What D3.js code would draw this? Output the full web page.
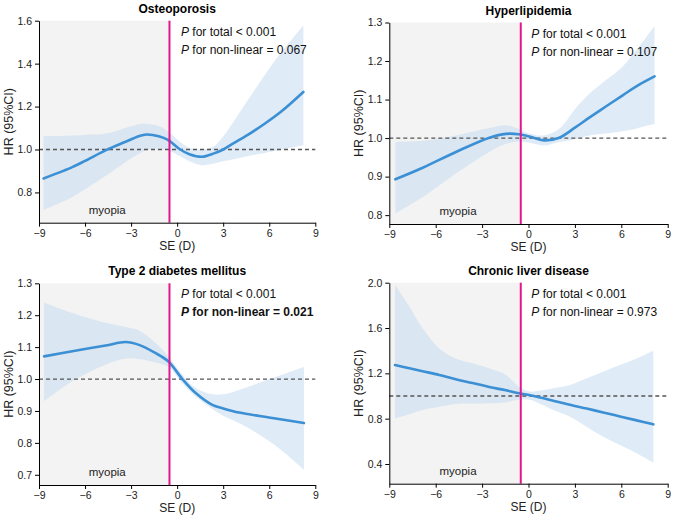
<!DOCTYPE html>
<html><head><meta charset="utf-8">
<script src="https://cdn.jsdelivr.net/npm/d3@7"></script>
<style>body{margin:0;background:#fff}svg{display:block}text{font-family:"Liberation Sans",Arial,sans-serif}</style>
</head><body><svg id="c" width="675" height="519"></svg>
<script>
// ---- data ----
const titles = ["Osteoporosis", "Hyperlipidemia", "Type 2 diabetes mellitus", "Chronic liver disease"];
const pTotal = ["< 0.001", "< 0.001", "< 0.001", "< 0.001"];
const pNonlinear = ["= 0.067", "= 0.107", "= 0.021", "= 0.973"];
const pBold = [false, false, true, false];
const cutoff = -0.5;
const xTicks = [-9, -6, -3, 0, 3, 6, 9];
const yTicks1 = [0.8, 1.0, 1.2, 1.4, 1.6];
const yTicks2 = [0.8, 0.9, 1.0, 1.1, 1.2, 1.3];
const yTicks3 = [0.7, 0.8, 0.9, 1.0, 1.1, 1.2, 1.3];
const yTicks4 = [0.4, 0.8, 1.2, 1.6, 2.0];

const osteoX  = [-8.7,-7.5,-6.8,-6,-4.6,-3.4,-2.5,-2,-1.2,-0.6,0.2,0.8,1.6,2.4,3.0,3.6,4.6,5.7,6.8,8.22];
const osteoHR = [0.865,0.898,0.919,0.947,0.998,1.035,1.062,1.07,1.062,1.045,1.0,0.978,0.966,0.982,1.0,1.026,1.068,1.12,1.178,1.268];
const osteoLo = [0.718,0.755,0.78,0.815,0.88,0.94,0.98,0.997,1.003,0.997,0.968,0.945,0.927,0.935,0.945,0.953,0.97,0.984,1.0,1.02];
const osteoHi = [1.063,1.063,1.065,1.068,1.074,1.1,1.118,1.12,1.11,1.085,1.035,1.008,1.0,1.015,1.06,1.121,1.229,1.346,1.454,1.578];

const lipidX  = [-8.61,-6.84,-4.69,-2.53,-1.46,-0.64,0.05,1.02,1.99,3.0,3.93,5,6.09,7,8.15];
const lipidHR = [0.893,0.923,0.964,1.001,1.011,1.010,1.004,0.994,1.001,1.027,1.053,1.082,1.111,1.135,1.160];
const lipidLo = [0.804,0.847,0.908,0.964,0.985,0.991,0.988,0.981,0.99,0.997,1.007,1.012,1.018,1.025,1.037];
const lipidHi = [0.99,0.993,1.007,1.026,1.033,1.024,1.012,1.007,1.024,1.075,1.115,1.15,1.186,1.23,1.291];

const t2dmX  = [-8.67,-6.83,-4.66,-3.35,-2.49,-1.4,-0.57,0.34,1.21,2.29,3.0,4.03,6.2,8.26];
const t2dmHR = [1.071,1.087,1.105,1.116,1.107,1.081,1.055,1.0,0.956,0.919,0.908,0.895,0.878,0.862];
const t2dmLo = [0.93,0.993,1.045,1.064,1.063,1.052,1.038,0.987,0.945,0.906,0.885,0.862,0.799,0.716];
const t2dmHi = [1.24,1.207,1.176,1.163,1.152,1.113,1.071,1.013,0.972,0.952,0.952,0.966,1.003,1.038];

const liverX  = [-8.63,-7.7,-6.85,-5.77,-4.71,-3.62,-2.54,-1.46,-0.6,0.1,0.8,1.6,2.68,3.76,4.83,5.91,6.99,8.07];
const liverHR = [1.273,1.245,1.219,1.186,1.147,1.115,1.08,1.05,1.024,1.007,0.985,0.958,0.922,0.889,0.855,0.82,0.785,0.75];
const liverLo = [0.803,0.84,0.876,0.905,0.929,0.934,0.935,0.945,0.97,0.966,0.927,0.876,0.817,0.729,0.64,0.567,0.494,0.411];
const liverHi = [1.979,1.788,1.597,1.42,1.332,1.288,1.244,1.185,1.08,1.04,1.048,1.068,1.097,1.156,1.214,1.273,1.332,1.4];

// ---- layout ----
const panels = [
  {x0:39, x1:315.3, yTop:20.7, yBot:222.7, dom:[0.659,1.6], ticks:yTicks1, X:osteoX, HR:osteoHR, LO:osteoLo, HI:osteoHi},
  {x0:389.3, x1:667.7, yTop:22.5, yBot:224, dom:[0.777,1.3], ticks:yTicks2, X:lipidX, HR:lipidHR, LO:lipidLo, HI:lipidHi},
  {x0:39, x1:315.3, yTop:283.3, yBot:485, dom:[0.668,1.3], ticks:yTicks3, X:t2dmX, HR:t2dmHR, LO:t2dmLo, HI:t2dmHi},
  {x0:389.3, x1:667.7, yTop:282.7, yBot:483.7, dom:[0.226,2.0], ticks:yTicks4, X:liverX, HR:liverHR, LO:liverLo, HI:liverHi}
];

const curve = d3.curveCatmullRom.alpha(0.5);
const svg = d3.select("#c");
panels.forEach((p, i) => {
  const g = svg.append("g");
  const x = d3.scaleLinear().domain([-9, 9]).range([p.x0, p.x1]);
  const y = d3.scaleLinear().domain(p.dom).range([p.yBot, p.yTop]);
  const data = p.X.map((v, k) => ({x: v, hr: p.HR[k], lo: p.LO[k], hi: p.HI[k]}));

  g.append("rect").attr("x", x(-9)).attr("y", p.yTop)
    .attr("width", x(cutoff) - x(-9)).attr("height", p.yBot - p.yTop)
    .attr("fill", "#f3f3f3");

  g.append("path").datum(data)
    .attr("d", d3.area().curve(curve).x(d => x(d.x)).y0(d => y(d.lo)).y1(d => y(d.hi)))
    .attr("fill", "#c9ddf0").attr("fill-opacity", 0.6);

  g.append("line").attr("x1", x(-9)).attr("x2", x(9)).attr("y1", y(1)).attr("y2", y(1))
    .attr("stroke", "#555").attr("stroke-width", 1.3).attr("stroke-dasharray", "4,3");

  g.append("path").datum(data)
    .attr("d", d3.line().curve(curve).x(d => x(d.x)).y(d => y(d.hr)))
    .attr("fill", "none").attr("stroke", "#3b8fd4").attr("stroke-width", 2.6).attr("stroke-linecap", "round");

  g.append("line").attr("x1", x(cutoff)).attr("x2", x(cutoff)).attr("y1", p.yTop).attr("y2", p.yBot)
    .attr("stroke", "#e3168d").attr("stroke-width", 2);

  const xa = g.append("g").attr("transform", `translate(0,${p.yBot})`)
    .call(d3.axisBottom(x).tickValues(xTicks).tickSize(4).tickPadding(3).tickSizeOuter(0));
  const ya = g.append("g").attr("transform", `translate(${p.x0},0)`)
    .call(d3.axisLeft(y).tickValues(p.ticks).tickFormat(d3.format(".1f")).tickSize(4).tickPadding(3).tickSizeOuter(0));
  [xa, ya].forEach(a => {
    a.selectAll("text").attr("font-size", 10.5).attr("fill", "#222").attr("font-family", "Liberation Sans, Arial, sans-serif");
    a.select(".domain").attr("stroke", "#000");
    a.selectAll(".tick line").attr("stroke", "#000");
  });

  g.append("text").attr("x", (p.x0 + p.x1) / 2).attr("y", p.yTop - 8)
    .attr("text-anchor", "middle").attr("font-size", 12).attr("font-weight", "bold").text(titles[i]);
  g.append("text").attr("x", (p.x0 + p.x1) / 2).attr("y", p.yBot + 27)
    .attr("text-anchor", "middle").attr("font-size", 12).attr("fill", "#222").text("SE (D)");
  g.append("text").attr("transform", `translate(${p.x0 - 26.5},${(p.yTop + p.yBot) / 2}) rotate(-90)`)
    .attr("text-anchor", "middle").attr("font-size", 12.5).attr("fill", "#222").text("HR (95%CI)");
  g.append("text").attr("x", (x(-9) + x(cutoff)) / 2 + 3).attr("y", p.yBot - 9)
    .attr("text-anchor", "middle").attr("font-size", 11.5).attr("fill", "#222").text("myopia");

  const tx = p.x0 + 142;
  const t1 = g.append("text").attr("x", tx).attr("y", p.yTop + 15).attr("font-size", 12).attr("fill", "#111");
  t1.append("tspan").attr("font-style", "italic").text("P");
  t1.append("tspan").text(" for total " + pTotal[i]);
  const t2 = g.append("text").attr("x", tx).attr("y", p.yTop + 33).attr("font-size", 12).attr("fill", "#111")
    .attr("font-weight", pBold[i] ? "bold" : "normal");
  t2.append("tspan").attr("font-style", "italic").text("P");
  t2.append("tspan").text(" for non-linear " + pNonlinear[i]);
});
</script></body></html>
